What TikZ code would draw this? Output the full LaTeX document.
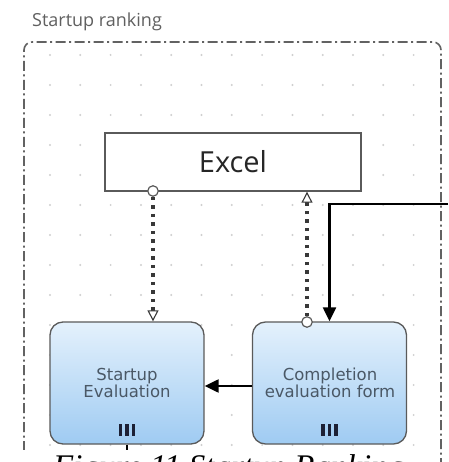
\documentclass[tikz,border=0pt]{standalone}
\usepackage{fontspec}
\setmainfont{Liberation Serif}
\newfontfamily\uifont{Open Sans}
\newfontfamily\boxfont{DejaVu Sans}
\usetikzlibrary{arrows.meta,calc}
\definecolor{framegray}{HTML}{626262}
\definecolor{titlegray}{HTML}{606060}
\definecolor{dotgray}{HTML}{CFCFCF}
\definecolor{boxgray}{HTML}{5A5A5A}
\definecolor{conngray}{HTML}{383838}
\definecolor{boxtext}{HTML}{4A5866}
\definecolor{markcol}{HTML}{1C2035}
\definecolor{shadetop}{HTML}{E4F1FC}
\definecolor{shadebot}{HTML}{9FCBF2}
\tikzset{
  framestyle/.style={draw=framegray, line width=1.6pt, dash pattern=on 10pt off 3.5pt on 2pt off 3.5pt},
  taskbox/.style={draw=boxgray, line width=1.3pt, rounded corners=13pt, top color=shadetop, bottom color=shadebot, minimum width=154pt, minimum height=122pt, inner sep=0pt},
  appbox/.style={draw=boxgray, line width=1.4pt, fill=white, minimum width=256pt, minimum height=58pt, inner sep=0pt, font=\uifont\fontsize{29}{29}\selectfont, text=black!85},
  boxlabel/.style={anchor=base, inner sep=0pt, font=\boxfont\fontsize{16.5}{17}\selectfont, text=boxtext},
  portcircle/.style={circle, draw=boxgray, line width=1.2pt, fill=white, minimum size=10.5pt, inner sep=0pt},
  dotconn/.style={draw=conngray, line width=3.4pt, dash pattern=on 3.5pt off 5pt, -{Triangle[open, length=11pt, width=11pt, line width=1.1pt, fill=white]}},
  flow/.style={draw=black, line width=2.2pt, -{Triangle[length=14pt, width=13pt]}},
}
\begin{document}
\begin{tikzpicture}[x=1pt,y=-1pt]
\useasboundingbox (0,0) rectangle (448,462);
\clip (0,0) rectangle (448,462);
\fill[white] (0,0) rectangle (448,462);
% dot grid
\foreach \i in {0,...,12} \foreach \j in {0,...,13}
  \fill[dotgray] ({50+30.3*\i},{55+30*\j}) circle (1.1);
% frame and title
\draw[framestyle, rounded corners=8pt] (24,470) -- (24,42) -- (441,42) -- (441,470);
\node[anchor=base west, inner sep=0pt, font=\uifont\fontsize{18}{18}\selectfont, text=titlegray] (title) at (32,27) {Startup ranking};
% nodes
\node[appbox] (excel) at (233,162) {Excel};
\node[taskbox] (se) at (127,383) {};
\node[taskbox] (cf) at (329.5,383) {};
\node[boxlabel] (se1) at (127,380) {Startup};
\node[boxlabel] (se2) at (127,397) {Evaluation};
\node[boxlabel] (cf1) at (330,380) {Completion};
\node[boxlabel] (cf2) at (330,397) {evaluation form};
\foreach \b in {se,cf}{
  \foreach \k in {-1,0,1}
    \fill[markcol] ($(\b.south)+(\k*6.5-1.7,-21)$) rectangle ($(\b.south)+(\k*6.5+1.7,-9)$);
}
% ports
\node[portcircle] (c1) at (153,191) {};
\node[portcircle] (c2) at (307,322) {};
% connectors
\draw[dotconn] (c1.south) -- (c1 |- se.north);
\draw[dotconn] (c2.north) -- (c2 |- excel.south);
\coordinate (inR) at (448,204);
\draw[flow] (inR) -| (cf.north);
\draw[flow] ([yshift=-3pt]cf.west) -- ([yshift=-3pt]se.east);
\coordinate (outB) at (127,470);
\draw[draw=black, line width=1.1pt] (se.south) -- (outB);
% caption
\fill[white] (0,450) rectangle (437,462);
\node[anchor=base west, inner sep=0pt, font=\itshape\fontsize{33}{33}\selectfont] (cap) at (53,477) {Figure 11 Startup Ranking};
\end{tikzpicture}
\end{document}
